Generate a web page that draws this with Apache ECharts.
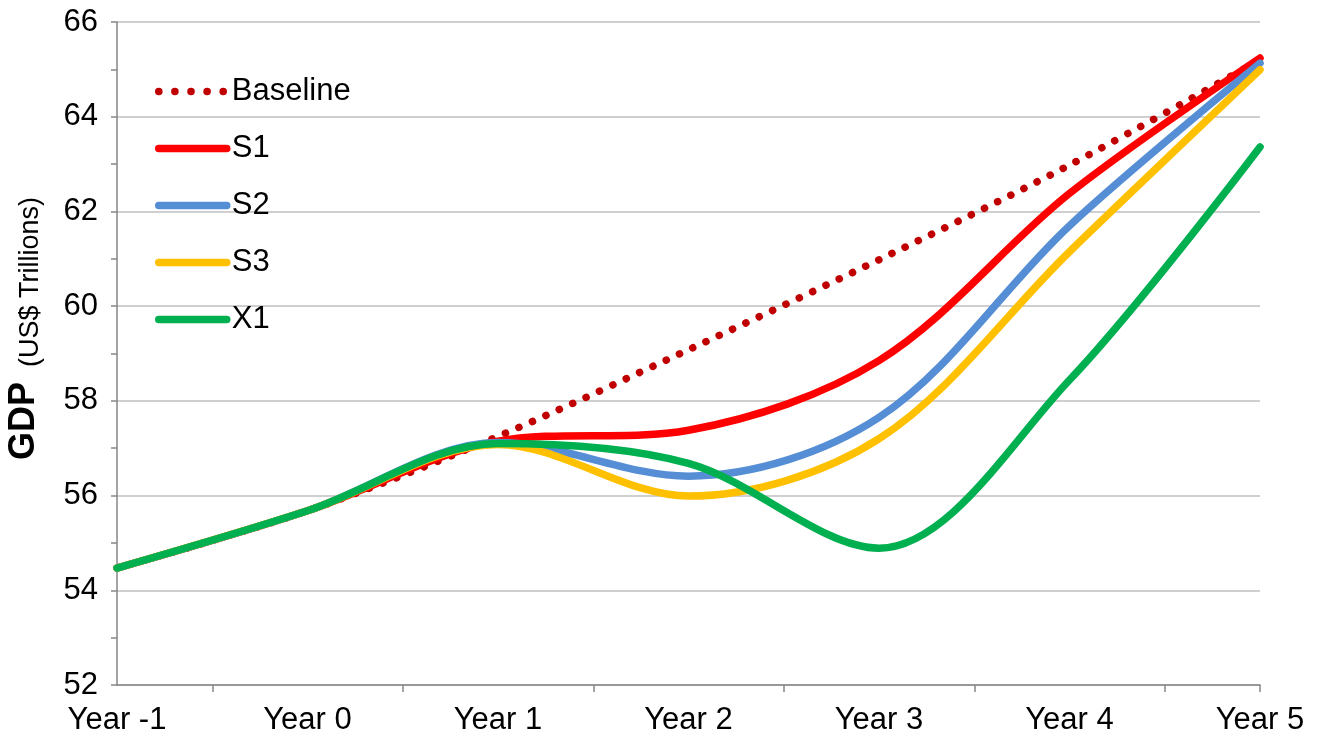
<!DOCTYPE html>
<html>
<head>
<meta charset="utf-8">
<style>
  html, body { margin: 0; padding: 0; background: #fff; }
  #chart { width: 1324px; height: 743px; }
</style>
<script src="https://cdn.jsdelivr.net/npm/echarts@6/dist/echarts.min.js"></script>
</head>
<body>
<div id="chart"></div>
<script>
// Years relative to Year 0
const years = [-1, 0, 1, 2, 3, 4, 5];
const midTicks = [-0.5, 0.5, 1.5, 2.5, 3.5, 4.5, 5];

// GDP, US$ trillions, read at each year
const baseline = [54.47, 55.68, 57.25, 59.08, 60.98, 62.98, 65.2];
const s1 = [54.47, 55.68, 57.15, 57.38, 58.85, 62.38, 65.24];
const s2 = [54.47, 55.68, 57.12, 56.41, 57.65, 61.7, 65.13];
const s3 = [54.47, 55.68, 57.08, 55.99, 57.2, 61.15, 64.99];
const x1 = [54.47, 55.68, 57.1, 56.68, 54.89, 58.44, 63.36];

const seriesNames = ['Baseline', 'S1', 'S2', 'S3', 'X1'];
const seriesValues = [baseline, s1, s2, s3, x1];
const seriesColors = ['#C00000', '#FF0000', '#558ED5', '#FFC000', '#00B050'];

const FONT = "'Liberation Sans', Arial, sans-serif";
const chart = echarts.init(document.getElementById('chart'), null, { renderer: 'canvas' });

const series = seriesNames.map((name, k) => ({
  name: name,
  type: 'line',
  smooth: 0.33,
  symbol: 'none',
  showSymbol: false,
  animation: false,
  data: years.map((t, i) => [t, seriesValues[k][i]]),
  lineStyle: k === 0
    ? { color: seriesColors[k], width: 7.5, type: [0.1, 14.6], cap: 'round', join: 'round' }
    : { color: seriesColors[k], width: 7.5, type: 'solid', cap: 'round', join: 'round' },
  itemStyle: { color: seriesColors[k] },
  z: 2 + k
}));

chart.setOption({
  animation: false,
  backgroundColor: '#fff',
  grid: { left: 117, right: 64, top: 22, bottom: 58, containLabel: false },
  xAxis: {
    type: 'value',
    min: -1,
    max: 5,
    axisLine: { show: true, onZero: false, lineStyle: { color: '#868686', width: 1.5 } },
    axisTick: { show: true, length: 7, customValues: midTicks, lineStyle: { color: '#868686', width: 1.5 } },
    axisLabel: {
      show: true, customValues: years, margin: 20,
      fontSize: 31, color: '#000', fontFamily: FONT,
      formatter: v => 'Year ' + v
    },
    splitLine: { show: false }
  },
  yAxis: {
    type: 'value',
    min: 52,
    max: 66,
    interval: 2,
    axisLine: { show: true, onZero: false, lineStyle: { color: '#868686', width: 1.5 } },
    axisTick: { show: true, length: 6, lineStyle: { color: '#868686', width: 1.5 } },
    minorTick: { show: true, splitNumber: 2, length: 6, lineStyle: { color: '#868686', width: 1.5 } },
    axisLabel: { margin: 19, fontSize: 31, color: '#000', fontFamily: FONT },
    splitLine: { show: true, lineStyle: { color: '#BFBFBF', width: 1.5 } }
  },
  legend: {
    orient: 'vertical',
    left: 155,
    top: 76,
    padding: 0,
    itemWidth: 68,
    itemHeight: 2,
    itemGap: 26,
    itemStyle: { opacity: 0 },
    lineStyle: { width: 7.5, cap: 'round' },
    textStyle: { fontSize: 31, color: '#000', fontFamily: FONT, lineHeight: 30 },
    data: seriesNames.map((n, k) => k === 0
      ? { name: n, lineStyle: { width: 7.5, type: [0.1, 16], cap: 'round' } }
      : { name: n })
  },
  graphic: [
    {
      type: 'text',
      x: 24, y: 421,
      rotation: Math.PI / 2,
      style: {
        text: 'GDP', fontSize: 36, fontWeight: 'bold', fontFamily: FONT,
        fill: '#000', align: 'center', verticalAlign: 'middle'
      }
    },
    {
      type: 'text',
      x: 30.5, y: 282,
      rotation: Math.PI / 2,
      style: {
        text: '(US$ Trillions)', fontSize: 27, fontFamily: FONT,
        fill: '#000', align: 'center', verticalAlign: 'middle'
      }
    }
  ],
  series: series
});
</script>
</body>
</html>
